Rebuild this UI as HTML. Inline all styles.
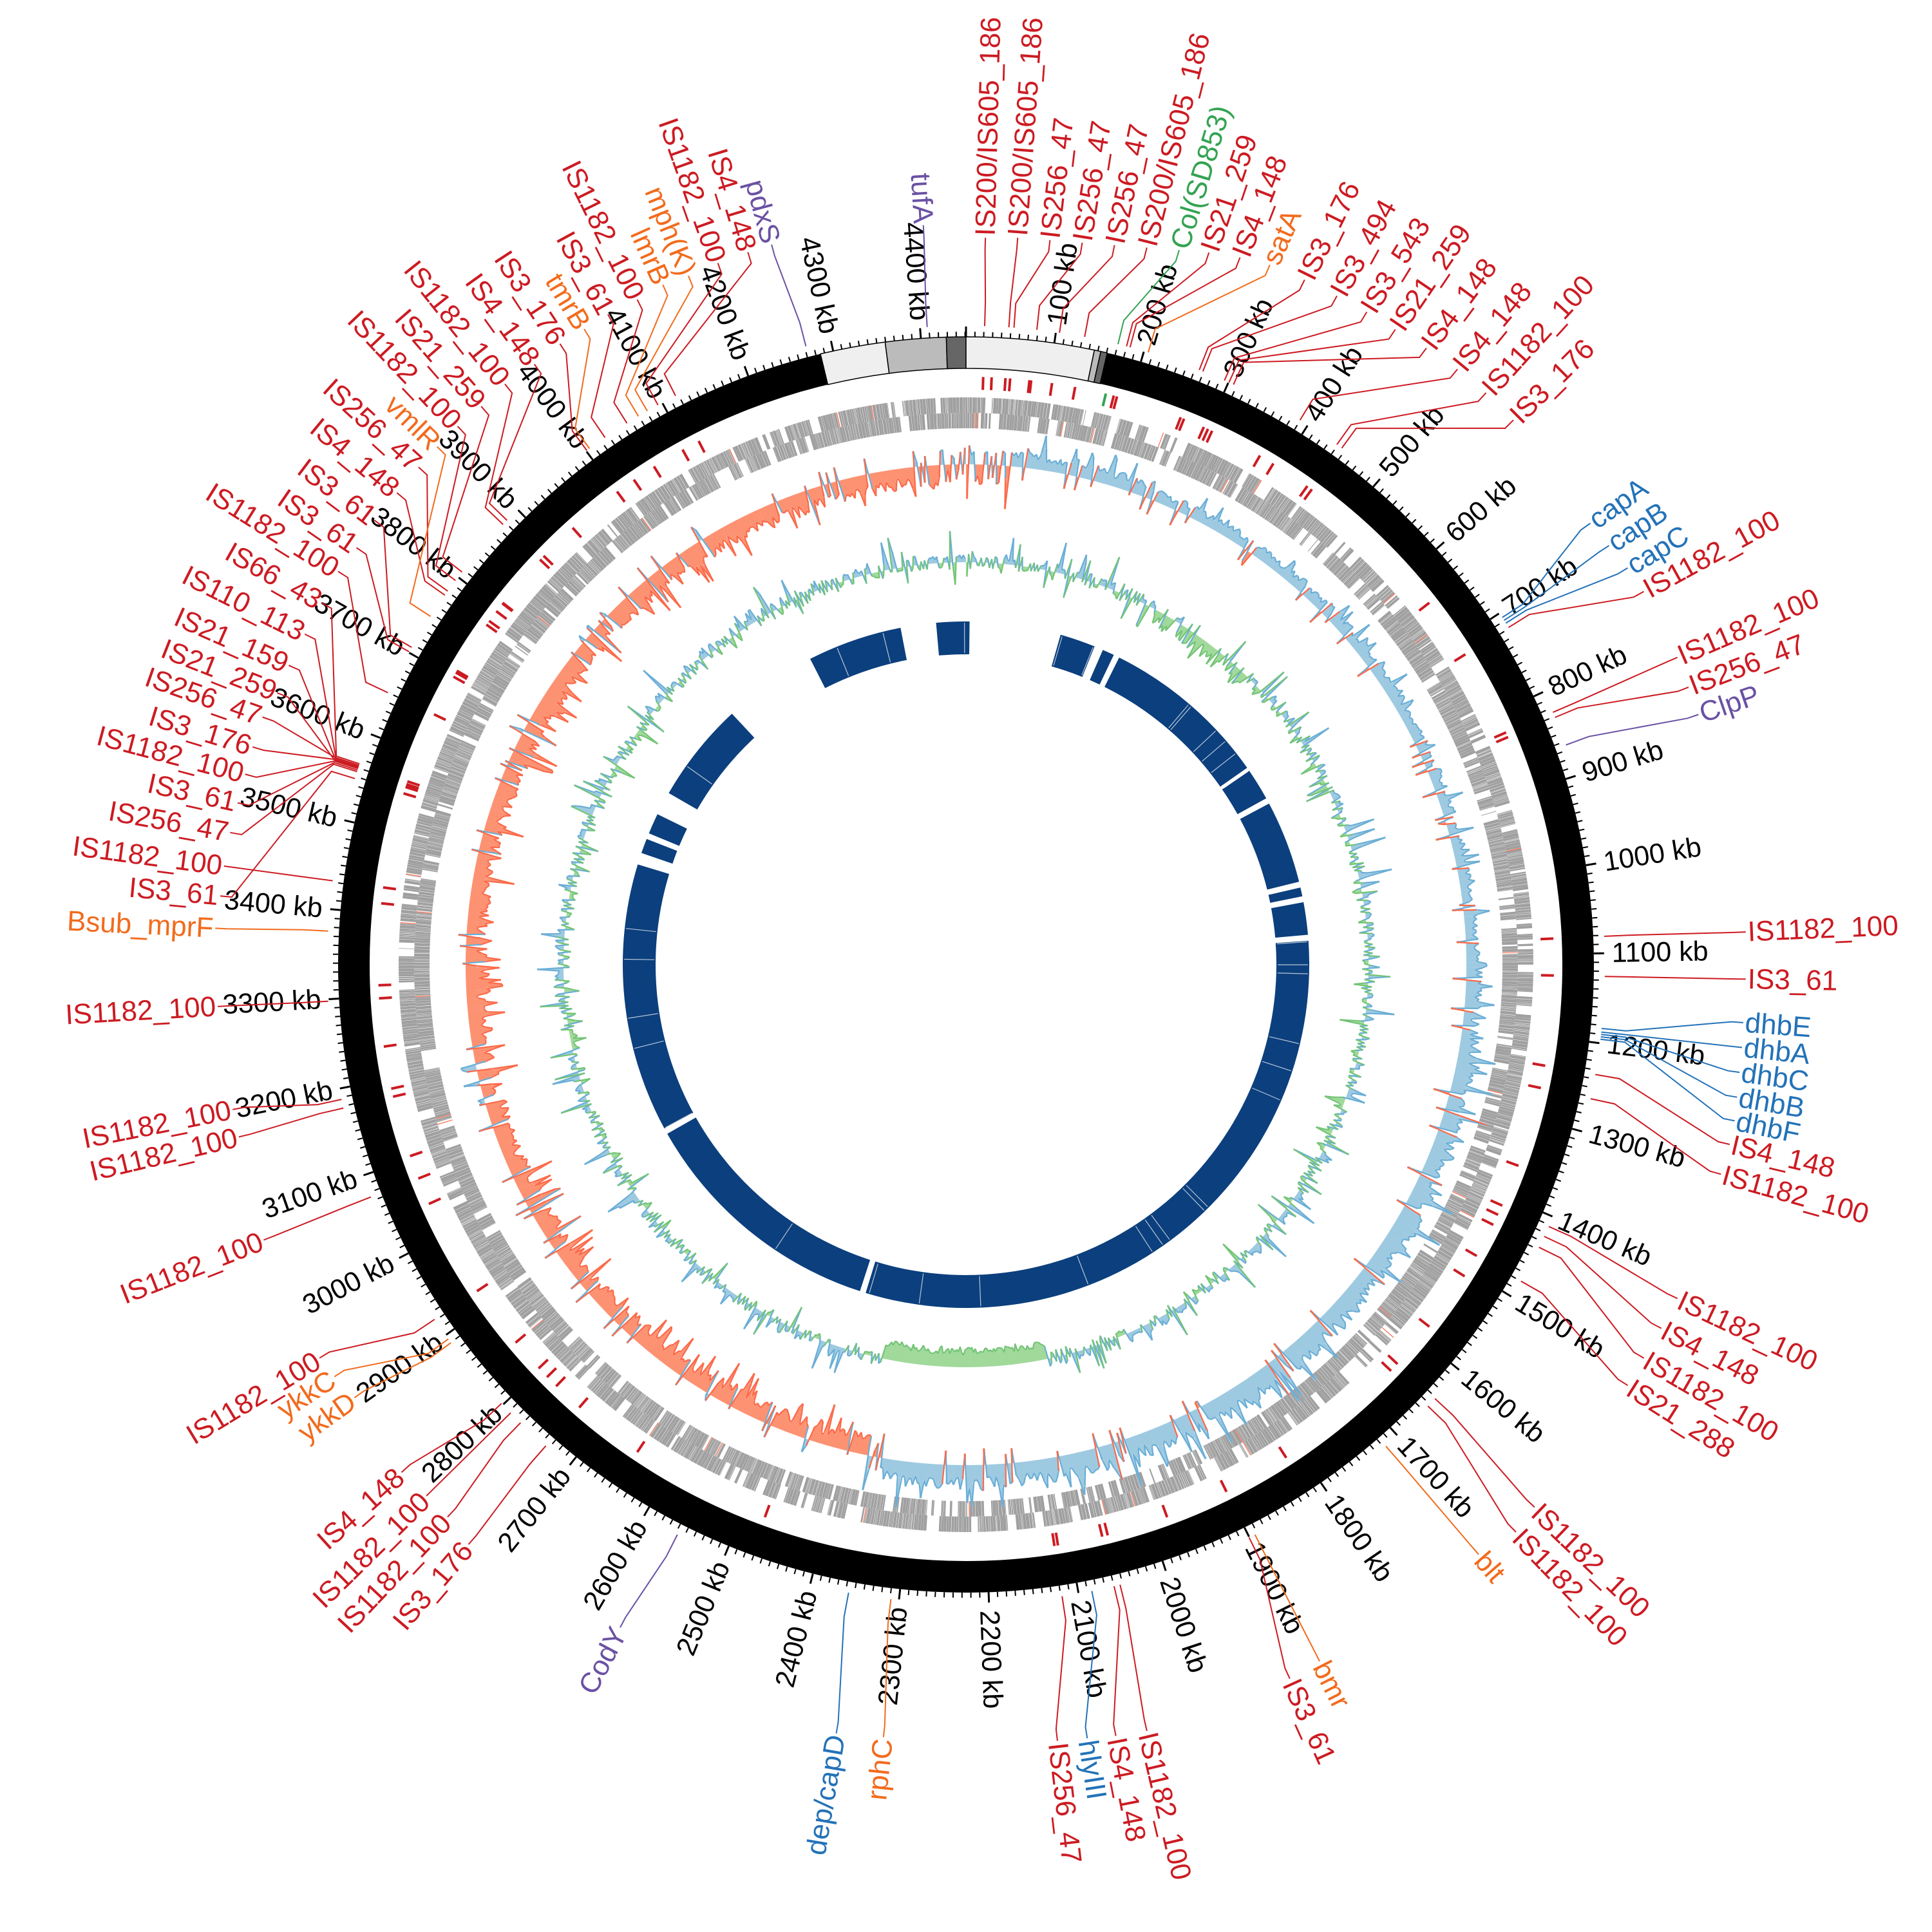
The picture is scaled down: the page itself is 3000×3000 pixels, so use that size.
<!DOCTYPE html>
<html><head><meta charset="utf-8"><style>
html,body{margin:0;padding:0;background:#fff;}
svg{display:block;}
text{font-family:"Liberation Sans",sans-serif;}
</style></head><body>
<svg id="s" xmlns="http://www.w3.org/2000/svg" width="3000" height="3000" viewBox="0 0 3000 3000">
<rect width="3000" height="3000" fill="#fff"/>
</svg>
<script>
(function(){
const NS="http://www.w3.org/2000/svg";
const svg=document.getElementById('s');
const CX=1500,CY=1498,S=1.942,L=4451;
let seed=12345;
function rnd(){seed|=0;seed=seed+0x6D2B79F5|0;let t=Math.imul(seed^seed>>>15,1|seed);t=t+Math.imul(t^t>>>7,61|t)^t;return((t^t>>>14)>>>0)/4294967296;}
function pol(a,r){const t=a*Math.PI/180;return [CX+r*Math.sin(t),CY-r*Math.cos(t)];}
function ang(x,y){let a=Math.atan2(x-CX,-(y-CY))*180/Math.PI;return (a+360)%360;}
function f(n){return n.toFixed(1);}
function P(p){return f(p[0])+','+f(p[1]);}
function el(tag,attrs,txt){const e=document.createElementNS(NS,tag);for(const k in attrs)e.setAttribute(k,attrs[k]);if(txt!==undefined)e.textContent=txt;svg.appendChild(e);return e;}
function sector(a0,a1,r0,r1){const p0=pol(a0,r1),p1=pol(a1,r1),p2=pol(a1,r0),p3=pol(a0,r0);const lg=(a1-a0)>180?1:0;
return 'M'+P(p0)+'A'+r1+','+r1+' 0 '+lg+' 1 '+P(p1)+'L'+P(p2)+'A'+r0+','+r0+' 0 '+lg+' 0 '+P(p3)+'Z';}
function quad(a0,a1,r0,r1){return 'M'+P(pol(a0,r0))+'L'+P(pol(a0,r1))+'L'+P(pol(a1,r1))+'L'+P(pol(a1,r0))+'Z';}

el('circle',{cx:CX,cy:CY,r:950.5,fill:'none',stroke:'#000','stroke-width':49});
const boxes=[[-13.4,-7.4,'#efefef'],[-7.4,-1.8,'#bbbbbb'],[-1.8,0,'#666666'],[0,11.8,'#efefef'],[11.8,12.4,'#bbbbbb'],[12.4,13.0,'#666666']];
boxes.forEach(b=>el('path',{d:sector(b[0],b[1],926,975),fill:b[2],stroke:'#000','stroke-width':1.5}));
let tk='',TK='';
for(let k=0;k<=445;k++){const a=k*10/L*360;if(a>=360)break;
 if(k%10==0){TK+='M'+P(pol(a,975))+'L'+P(pol(a,991));}else{tk+='M'+P(pol(a,975))+'L'+P(pol(a,983));}}
el('path',{d:tk,stroke:'#000','stroke-width':2,fill:'none'});
el('path',{d:TK,stroke:'#000','stroke-width':3,fill:'none'});
for(let k=1;k<=44;k++){const a=k*100/L*360;const p=pol(a,1003);
 let rot,anc;if(a<180){rot=a-90;anc='start';}else{rot=a+90;anc='end';}
 el('text',{x:f(p[0]),y:f(p[1]),'font-size':43,fill:'#000','text-anchor':anc,'dominant-baseline':'central',transform:'rotate('+f(rot)+' '+f(p[0])+' '+f(p[1])+')'},k*100+' kb');}

function cds(r0,r1){let d='',dr='';let a=0;
 while(a<360){ if(rnd()<0.08){a+=0.1+rnd()*0.8;continue;}
  const len=0.04+rnd()*0.3;const q=quad(a,Math.min(a+len,360),r0,r1);
  if(rnd()<0.01)dr+=quad(a,a+0.08,r0,r1);else d+=q; a+=len+0.01+rnd()*0.03;}
 el('path',{d:d,fill:'#a0a0a0'});el('path',{d:dr,fill:'#fb6a4a'});}
cds(857,881);cds(833,857);

(function(){const st=0.25;const base=777;let fb='',fr='',lb='',lr='';let prevTip=null,prevS=0;
 for(let a=0;a<360;a+=st){let s;
  if(a>6&&a<189)s=1;else if(a>192&&a<353)s=-1;else s=(rnd()<0.5?1:-1);
  let amp=12+14*rnd()+(rnd()<0.18?30*rnd():0);
  if(s>0&&a>100&&a<188)amp*=1.5;
  if(s>0&&a>20&&a<90)amp*=0.8;
  if(s<0)amp*=1.3;
  let v=s*amp;if(rnd()<0.08)v=-s*(4+22*rnd());
  const q=quad(a,a+st,base,base+v);
  const tip=pol(a+st/2,base+v);
  if(v>0){fb+=q;}else{fr+=q;}
  if(prevTip){const seg='M'+P(prevTip)+'L'+P(tip);if(prevS>0)lb+=seg;else lr+=seg;}
  prevTip=tip;prevS=v;}
 el('path',{d:fb,fill:'#9ecae1'});el('path',{d:fr,fill:'#fc9272'});
 el('path',{d:lb,stroke:'#6baed6','stroke-width':2.2,fill:'none'});
 el('path',{d:lr,stroke:'#fb6a4a','stroke-width':2.2,fill:'none'});})();

(function(){const st=0.25;const base=625;let fb='',fg='',lb='',lg='';let prevTip=null,prevS=0;
 for(let a=0;a<360;a+=st){let v;
  if(rnd()<0.55)v=5+14*rnd()*rnd()+(rnd()<0.14?45*rnd():0);else v=-(4+12*rnd()*rnd()+(rnd()<0.12?32*rnd():0));
  if(a>168&&a<192)v=-(18+14*rnd());
  if(a>28&&a<45&&rnd()<0.5)v=-(8+20*rnd());
  const q=quad(a,a+st,base,base+v);const tip=pol(a+st/2,base+v);
  if(v>0)fb+=q;else fg+=q;
  if(prevTip){const seg='M'+P(prevTip)+'L'+P(tip);if(prevS>0)lb+=seg;else lg+=seg;}
  prevTip=tip;prevS=v;}
 el('path',{d:fb,fill:'#9ecae1'});el('path',{d:fg,fill:'#a1d99b'});
 el('path',{d:lb,stroke:'#6baed6','stroke-width':2.2,fill:'none'});
 el('path',{d:lg,stroke:'#74c476','stroke-width':2.2,fill:'none'});})();

const segs=[[355,360],[0,0.6],[16,22],[23.5,25.5],[26.5,55],[55.6,61],[62,76],[77,78.5],[79.5,85],[86,197],[198,240.5],[241.5,287],[289,291.5],[292.5,296],[300,317],[333,349]];
let bd='';segs.forEach(s=>bd+=sector(s[0],s[1],482,533));
el('path',{d:bd,fill:'#0c3f7d'});
let wl='';for(let i=0;i<40;i++){const a=rnd()*360;wl+='M'+P(pol(a,484))+'L'+P(pol(a,531));}
el('path',{d:wl,stroke:'#ffffff','stroke-width':1.2,opacity:0.7});

const R='#cc1b22',O='#f26b1d',B='#2372b8',Pp='#6a51a3',G='#33a352';
const disp=[
["IS200/IS605_186",R,788,186,787,272],["IS200/IS605_186",R,814,186,806,272],["IS256_47",R,840,188,810,272],
["IS256_47",R,866,190,828,273],["IS256_47",R,892,192,846,274],["IS200/IS605_186",R,918,194,866,276],
["Col(SD853)",G,944,196,893,279],["IS21_259",R,968,198,900,280],["IS4_148",R,993,202,903,280],
["satA",O,1017,208,918,282],["IS3_176",R,1045,220,962,288],["IS3_494",R,1071,233,965,289],
["IS3_543",R,1095,246,984,293],["IS21_259",R,1118,260,988,294],["IS4_148",R,1143,275,992,295],
["IS4_148",R,1168,292,1048,322],["IS1182_100",R,1191,311,1080,340],["IS3_176",R,1213,333,1084,343],
["capA",B,1275,416,1210,488],["capB",B,1290,434,1212,490],["capC",B,1305,452,1214,492],
["IS1182_100",R,1318,471,1217,495],["IS1182_100",R,1345,524,1250,566],["IS256_47",R,1354,548,1252,570],
["ClpP",Pp,1362,570,1262,592],["IS1182_100",R,1400,745,1297,748],["IS3_61",R,1400,783,1297,781],
["dhbE",B,1398,818,1297,824],["dhbA",B,1397,838,1297,827],["dhbC",B,1395,858,1297,829],
["dhbB",B,1393,878,1297,831],["dhbF",B,1391,897,1297,833],["IS4_148",R,1387,916,1292,862],
["IS1182_100",R,1380,940,1288,882],["IS1182_100",R,1345,1040,1248,985],["IS4_148",R,1332,1064,1244,993],
["IS1182_100",R,1318,1088,1240,1002],["IS21_288",R,1305,1110,1226,1030],["IS1182_100",R,1230,1208,1160,1130],
["IS1182_100",R,1215,1228,1155,1137],["blt",O,1185,1246,1120,1170],["bmr",O,1057,1332,1010,1240],
["IS3_61",R,1033,1346,1005,1242],["IS1182_100",R,918,1388,900,1285],["IS4_148",R,893,1392,895,1286],
["hlyIII",B,870,1394,876,1287],["IS256_47",R,846,1396,851,1288],
["rphC",O,706,1393,711,1290],["dep/capD",B,668,1390,676,1287],["CodY",Pp,494,1305,530,1250],
["IS3_176",R,372,1238,433,1160],["IS1182_100",R,355,1216,412,1142],["IS1182_100",R,338,1199,405,1133],
["IS4_148",R,318,1180,398,1125],["ykkD",O,280,1120,360,1074],["ykkC",O,264,1103,358,1071],
["IS1182_100",R,252,1088,346,1056],["IS1182_100",R,207,993,302,955],["IS1182_100",R,187,910,279,885],
["IS1182_100",R,182,888,278,878],["IS1182_100",R,170,805,272,800],["Bsub_mprF",O,168,742,272,745],
["IS3_61",R,172,716,292,625],["IS1182_100",R,175,692,272,705],["IS256_47",R,180,665,295,620],
["IS3_61",R,186,641,296,619],["IS1182_100",R,192,618,297,618],["IS3_176",R,198,596,298,617],
["IS256_47",R,206,572,299,616],["tufA",Pp,738,176,742,272]];
const real=[
["IS21_259",R,423,1073,579,1200],["IS21_159",R,441,1030,580,1198],["IS110_113",R,466,981,581,1196],
["IS66_43",R,492,932,582,1194],["IS1182_100",R,518,883,633,1090],["IS3_61",R,547,846,662,1027],
["IS3_61",R,575,803,667,1021],["IS4_148",R,610,760,713,940],["IS256_47",R,644,720,719,935],
["vmlR",O,673,688,696,975],["IS1182_100",R,705,656,736,923],["IS21_259",R,742,625,748,912],
["IS1182_100",R,779,590,805,837],["IS4_148",R,825,559,811,831],["IS3_176",R,865,527,930,725],
["tmrB",O,903,504,934,722],["IS3_61",R,940,481,957,705],["IS1182_100",R,986,458,989,682],
["lmrB",O,1026,435,1006,671],["mph(K)",O,1066,421,1017,659],["IS1182_100",R,1112,401,1035,653],
["IS4_148",R,1159,384,1063,642],["pdxS",Pp,1196,372,1258,563]];
const all=disp.map(d=>[d[0],d[1],d[2]*S,d[3]*S,d[4]*S,d[5]*S]).concat(real);
let marks={};
all.forEach(d=>{const [t,c,lx,ly,fx,fy]=d;const phi=ang(lx,ly);const rA=Math.hypot(lx-CX,ly-CY)-8;const th=ang(fx,fy);
 const A=pol(phi,rA),Bp=pol(phi,rA-18),C=pol(th,1030),D=pol(th,992);
 el('path',{d:'M'+P(A)+'L'+P(Bp)+'L'+P(C)+'L'+P(D),stroke:c,'stroke-width':2,fill:'none'});
 const T=pol(phi,rA+3);let rot,anc;if(phi<180){rot=phi-90;anc='start';}else{rot=phi+90;anc='end';}
 el('text',{x:f(T[0]),y:f(T[1]),'font-size':44,fill:c,'text-anchor':anc,'dominant-baseline':'central',transform:'rotate('+f(rot)+' '+f(T[0])+' '+f(T[1])+')'},t);
 if(c===R||c===G){const key=Math.round(th*4);if(!marks[key]){marks[key]=1;el('path',{d:'M'+P(pol(th,893))+'L'+P(pol(th,913)),stroke:c,'stroke-width':4});}}
});
[2.5,6.2,30,52,110,122,128,147,160,171,200,214,230,246,251,262,268,276,300,308,318].forEach(a=>el('path',{d:'M'+P(pol(a,893))+'L'+P(pol(a,913)),stroke:R,'stroke-width':4}));
})();
</script>
</body></html>
